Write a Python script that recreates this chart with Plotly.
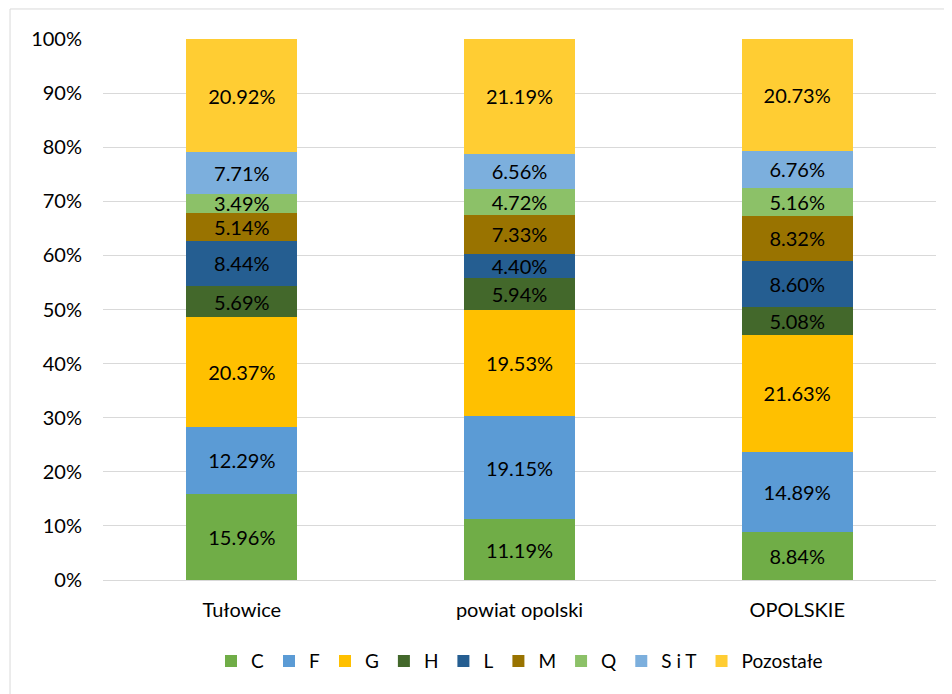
import plotly.graph_objects as go

categories = ["Tułowice", "powiat opolski", "OPOLSKIE"]
sections = ["C", "F", "G", "H", "L", "M", "Q", "S i T", "Pozostałe"]

c_vals = [15.96, 11.19, 8.84]
f_vals = [12.29, 19.15, 14.89]
g_vals = [20.37, 19.53, 21.63]
h_vals = [5.69, 5.94, 5.08]
l_vals = [8.44, 4.40, 8.60]
m_vals = [5.14, 7.33, 8.32]
q_vals = [3.49, 4.72, 5.16]
sit_vals = [7.71, 6.56, 6.76]
other_vals = [20.92, 21.19, 20.73]

series = [c_vals, f_vals, g_vals, h_vals, l_vals, m_vals, q_vals, sit_vals, other_vals]
colors = ["#70AD47", "#5B9BD5", "#FFC000", "#43682B", "#255E91",
          "#997300", "#8CC168", "#7CAFDD", "#FFCD33"]

fig = go.Figure()
for name, vals, col in zip(sections, series, colors):
    fig.add_trace(go.Bar(
        x=categories, y=[v / 100 for v in vals], name=name,
        marker=dict(color=col, line=dict(width=0)),
        text=[f"{v:.2f}%" for v in vals], textposition="inside",
        insidetextanchor="middle", textangle=0,
        textfont=dict(color="black", size=20),
    ))

fig.update_layout(
    barmode="stack", bargap=0.6,
    width=952, height=694,
    margin=dict(l=95, r=24, t=31, b=122, autoexpand=False),
    paper_bgcolor="white", plot_bgcolor="white",
    font=dict(family="Lato, Open Sans, sans-serif", size=20, color="#000000"),
    uniformtext=dict(minsize=20, mode="show"),
    legend=dict(orientation="h", x=0.5, xanchor="center", y=-0.115, yanchor="top",
                font=dict(size=19), itemwidth=30, tracegroupgap=0,
                traceorder="normal"),
    xaxis=dict(showline=True, linecolor="#D9D9D9", ticks="", tickfont=dict(size=20),
               ticklabelstandoff=12),
    yaxis=dict(range=[0, 1], dtick=0.1, tickformat=".0%", gridcolor="#D9D9D9",
               zeroline=False, tickfont=dict(size=20), ticklabelstandoff=20),
    shapes=[dict(type="rect", xref="paper", yref="paper", x0=-0.1116, x1=1.2,
                 y0=-0.4, y1=1.0555, line=dict(color="#D9D9D9", width=1))],
)

fig.write_html("out.html")
